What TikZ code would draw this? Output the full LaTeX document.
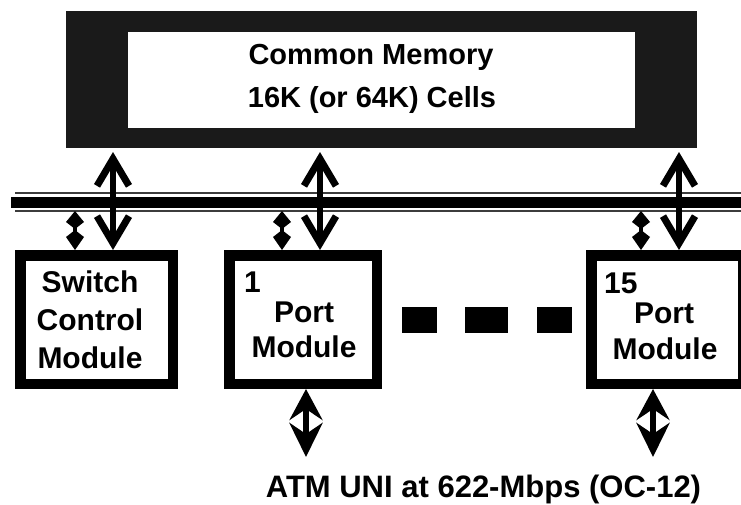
\documentclass[tikz,border=0pt]{standalone}
\usepackage{fontspec}
\setmainfont{Liberation Sans}
\usetikzlibrary{arrows.meta}
\definecolor{memdark}{RGB}{26,26,26}
\definecolor{busgray}{RGB}{60,60,60}
\begin{document}
\begin{tikzpicture}[x=1pt,y=-1pt,
  lbl/.style={inner sep=0pt, font=\bfseries\fontsize{30}{36}\selectfont, anchor=base},
  memlbl/.style={inner sep=0pt, font=\bfseries\fontsize{29}{34}\selectfont, anchor=base},
  modbox/.style={draw=black, line width=10.5pt, fill=white, rectangle, inner sep=0pt, outer sep=5.25pt, minimum height=128.5pt},
  bigarr/.style={line width=6pt, shorten <=4pt,
    {Straight Barb[length=27pt,width=32pt,line width=7pt]}-{Straight Barb[length=27pt,width=32pt,line width=7pt]}},
  smallarr/.style={line width=4pt,
    {Kite[length=18pt,width=18pt,inset=7pt]}-{Kite[length=20pt,width=18pt,inset=7pt]}},
  botarr/.style={line width=6pt,
    {Stealth[length=31pt,width=33pt,inset=11pt]}-{Stealth[length=34pt,width=33pt,inset=11pt]}},
  dashbox/.style={fill=black}
]
\useasboundingbox (0,0) rectangle (741,504);
\fill[white] (0,0) rectangle (741,504);

% common memory
\node[fill=memdark, inner sep=0pt, outer sep=0pt, minimum width=631pt, minimum height=137pt] (mem) at (381.5,79.5) {};
\node[fill=white, inner sep=0pt, outer sep=0pt, minimum width=507pt, minimum height=96pt] (memin) at (381.5,80) {};
\node[memlbl] (memt1) at (371,64) {Common Memory};
\node[memlbl] (memt2) at (372,107) {16K (or 64K) Cells};

% bus
\coordinate (busL) at (11,202.5);
\coordinate (busR) at (741,202.5);
\coordinate (busbot) at (0,211);
\draw[busgray, line width=1.8pt] (15,193) -- (741,193);
\draw[black, line width=11pt] (busL) -- (busR);
\draw[busgray, line width=1.8pt] (15,211) -- (741,211);

% modules
\node[modbox, minimum width=152.5pt] (sw) at (96.5,319.5) {};
\node[modbox, minimum width=147.5pt] (p1) at (303,319.5) {};
\node[modbox, minimum width=152pt] (p15) at (667.25,319.5) {};

\node[lbl] (swt1) at (90,292) {Switch};
\node[lbl] (swt2) at (90,330) {Control};
\node[lbl] (swt3) at (90,368) {Module};

\node[lbl, anchor=base west] (p1n) at (244,292) {1};
\node[lbl] (p1t1) at (304,322) {Port};
\node[lbl] (p1t2) at (304,357) {Module};

\node[lbl, anchor=base west] (p15n) at (604,293) {15};
\node[lbl] (p15t1) at (664,323) {Port};
\node[lbl] (p15t2) at (665,359) {Module};

% dashes
\fill[dashbox] (402,307) rectangle (437,333);
\fill[dashbox] (465,307) rectangle (508,333);
\fill[dashbox] (537,307) rectangle (572,333);

% arrow end coordinates
\coordinate (swA) at ([xshift=16.5pt]sw.north);
\coordinate (swB) at ([xshift=-21.5pt]sw.north);
\coordinate (p1A) at ([xshift=17pt]p1.north);
\coordinate (p1B) at ([xshift=-21pt]p1.north);
\coordinate (p1C) at ([xshift=3pt]p1.south);
\coordinate (p15A) at ([xshift=11.75pt]p15.north);
\coordinate (p15B) at ([xshift=-26.25pt]p15.north);
\coordinate (p15C) at ([xshift=-14.25pt]p15.south);
\coordinate (atm) at (0,457);

\draw[bigarr] (swA |- mem.south) -- (swA);
\draw[bigarr] (p1A |- mem.south) -- (p1A);
\draw[bigarr] (p15A |- mem.south) -- (p15A);

\draw[smallarr] (swB |- busbot) -- (swB);
\draw[smallarr] (p1B |- busbot) -- (p1B);
\draw[smallarr] (p15B |- busbot) -- (p15B);

\draw[botarr] (p1C) -- (p1C |- atm);
\draw[botarr] (p15C) -- (p15C |- atm);

\node[lbl, font=\bfseries\fontsize{31}{36}\selectfont] (atmt) at (483.5,497) {ATM UNI at 622-Mbps (OC-12)};
\end{tikzpicture}
\end{document}
